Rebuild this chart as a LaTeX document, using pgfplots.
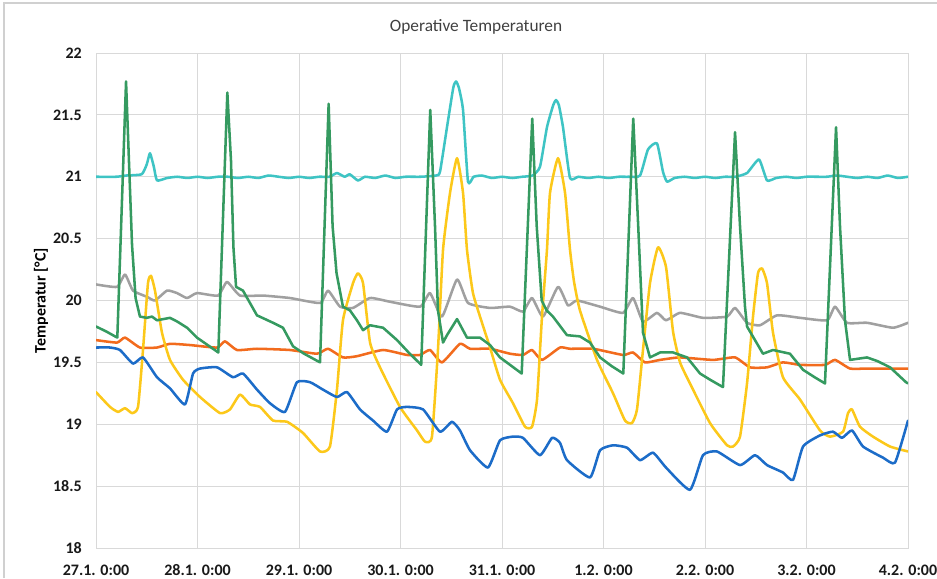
\documentclass[border=0pt]{standalone}
\usepackage{fontspec}
\setmainfont{Carlito}
\usepackage{pgfplots}
\pgfplotsset{compat=1.18}

\definecolor{gridgray}{HTML}{D9D9D9}
\definecolor{frame}{HTML}{D0D0D0}
\definecolor{tcyan}{HTML}{3EC4C4}
\definecolor{tgreen}{HTML}{359A60}
\definecolor{tgray}{HTML}{A0A0A0}
\definecolor{torange}{HTML}{F26B1D}
\definecolor{tyellow}{HTML}{FCC81A}
\definecolor{tblue}{HTML}{1C6CC8}
\definecolor{titlegray}{HTML}{404040}

\begin{document}
\begin{tikzpicture}
\useasboundingbox (-72pt,-22.5pt) rectangle (630.75pt,411pt);
\draw[frame, line width=0.8pt] (-69pt,-22.5pt) -- (-69pt,408.75pt) -- (630.75pt,408.75pt);
\begin{axis}[
    at={(0,0)}, anchor=south west,
    scale only axis, width=609pt, height=371.25pt,
    xmin=0, xmax=8, ymin=18, ymax=22,
    xtick={0,1,2,3,4,5,6,7,8},
    xticklabels={27.1. 0:00,28.1. 0:00,29.1. 0:00,30.1. 0:00,31.1. 0:00,1.2. 0:00,2.2. 0:00,3.2. 0:00,4.2. 0:00},
    ytick={18,18.5,19,19.5,20,20.5,21,21.5,22},
    grid=major, grid style={draw=gridgray, line width=0.6pt},
    axis line style={draw=gridgray, line width=0.6pt},
    tick style={draw=none},
    /pgf/number format/assume math mode=true,
    ticklabel style={font=\fontsize{12}{14}\selectfont\bfseries, text=black!90},
    xticklabel style={anchor=center, yshift=-16.5pt},
    yticklabel style={anchor=east, inner sep=0pt, xshift=-10.5pt},
    ylabel={Temperatur [°C]},
    ylabel style={at={(axis description cs:-0.0677,0.5)}, anchor=center,
        font=\fontsize{12}{14}\selectfont\bfseries},
    title={Operative Temperaturen},
    title style={at={(axis description cs:0.468,1.036)}, anchor=center,
        font=\fontsize{13}{15}\selectfont, text=titlegray},
    every axis plot/.append style={line width=1.9pt, line join=round, line cap=round},
]
% cyan
\addplot[tcyan, smooth, tension=0.3] coordinates {
(0,21.00) (0.2,21.00) (0.3,21.01) (0.45,21.02) (0.5,21.10) (0.532,21.19) (0.57,21.08) (0.601,20.97)
(0.7,20.99) (0.8,21.0) (0.9,20.99) (1.0,21.0) (1.1,20.99) (1.2,21.0) (1.3,21.0) (1.4,20.99) (1.5,21.0)
(1.6,20.99) (1.7,21.01) (1.8,21.0) (1.9,20.99) (2.0,21.0) (2.1,20.99) (2.2,21.0) (2.3,21.0) (2.374,21.03)
(2.45,21.0) (2.5,21.02) (2.58,20.97) (2.65,21.0) (2.75,20.99) (2.85,21.01) (2.95,20.99) (3.05,21.0)
(3.2,21.0) (3.35,21.01) (3.389,21.04) (3.458,21.40) (3.52,21.72) (3.547,21.77) (3.575,21.72) (3.616,21.54)
(3.665,20.96) (3.72,21.0) (3.8,21.01) (3.9,20.99) (4.0,21.0) (4.1,20.99) (4.2,21.0) (4.3,21.01)
(4.374,21.08) (4.443,21.40) (4.505,21.58) (4.532,21.62) (4.56,21.58) (4.601,21.40) (4.670,20.99) (4.75,21.0)
(4.85,20.99) (4.95,21.0) (5.05,20.99) (5.15,21.0) (5.25,21.0) (5.360,21.01) (5.438,21.22) (5.527,21.27)
(5.586,21.04) (5.626,20.96) (5.7,20.99) (5.8,21.0) (5.9,20.99) (6.0,21.0) (6.1,20.99) (6.2,21.0) (6.3,21.0)
(6.414,21.03) (6.532,21.14) (6.611,20.97) (6.7,20.99) (6.8,21.0) (6.9,20.99) (7.0,21.0) (7.1,21.0)
(7.2,21.0) (7.3,21.01) (7.4,21.0) (7.5,20.99) (7.6,21.0) (7.7,20.99) (7.8,21.01) (7.9,20.99) (8.0,21.0)
};
% grey
\addplot[tgray, smooth, tension=0.3] coordinates {
(0,20.13) (0.207,20.11) (0.286,20.21) (0.365,20.08) (0.502,20.03) (0.581,20.00) (0.700,20.08)
(0.798,20.06) (0.897,20.02) (0.995,20.06) (1.202,20.04) (1.291,20.15) (1.419,20.04) (1.645,20.04)
(1.911,20.02) (2.207,19.98) (2.286,20.08) (2.404,19.95) (2.532,19.94) (2.700,20.02) (2.897,19.99)
(3.192,19.95) (3.291,20.06) (3.409,19.87) (3.557,20.17) (3.665,19.98) (3.882,19.94) (4.079,19.95)
(4.207,19.91) (4.296,20.02) (4.404,19.87) (4.552,20.11) (4.650,19.96) (4.739,20.00) (4.966,19.95)
(5.192,19.90) (5.291,20.02) (5.389,19.83) (5.527,19.90) (5.616,19.84) (5.754,19.90) (5.980,19.86)
(6.217,19.87) (6.296,19.94) (6.414,19.82) (6.542,19.80) (6.709,19.88) (6.936,19.86) (7.202,19.84)
(7.281,19.95) (7.399,19.82) (7.596,19.82) (7.852,19.78) (8.0,19.82)
};
% orange
\addplot[torange, smooth, tension=0.3] coordinates {
(0,19.68) (0.207,19.66) (0.286,19.70) (0.433,19.62) (0.601,19.62) (0.729,19.65) (0.926,19.64)
(1.192,19.62) (1.271,19.67) (1.389,19.60) (1.586,19.61) (1.911,19.60) (2.177,19.57) (2.286,19.61)
(2.433,19.54) (2.571,19.55) (2.828,19.60) (3.064,19.56) (3.192,19.56) (3.291,19.60) (3.409,19.50)
(3.586,19.65) (3.685,19.61) (3.882,19.61) (4.079,19.57) (4.207,19.56) (4.296,19.60) (4.394,19.52)
(4.571,19.62) (4.670,19.61) (4.897,19.61) (5.192,19.56) (5.291,19.58) (5.409,19.50) (5.557,19.52)
(5.754,19.54) (6.079,19.52) (6.296,19.54) (6.443,19.46) (6.611,19.46) (6.768,19.50) (6.936,19.48)
(7.182,19.48) (7.281,19.52) (7.429,19.45) (7.596,19.45) (8.0,19.45)
};
% yellow
\addplot[tyellow, smooth, tension=0.3] coordinates {
(0,19.26) (0.138,19.14) (0.217,19.10) (0.286,19.13) (0.355,19.09) (0.414,19.14) (0.463,19.60)
(0.512,20.14) (0.542,20.20) (0.581,20.08) (0.650,19.74) (0.729,19.52) (0.857,19.36) (1.025,19.22)
(1.222,19.09) (1.320,19.12) (1.419,19.24) (1.517,19.16) (1.616,19.14) (1.744,19.03) (1.882,19.02)
(2.039,18.93) (2.207,18.78) (2.305,18.82) (2.374,19.28) (2.433,19.84) (2.532,20.14) (2.581,20.22)
(2.631,20.14) (2.700,19.66) (2.798,19.46) (2.995,19.14) (3.163,18.95) (3.241,18.86) (3.310,18.90)
(3.369,19.60) (3.419,20.41) (3.488,20.87) (3.557,21.15) (3.616,20.87) (3.655,20.41) (3.714,20.06)
(3.803,19.82) (3.882,19.62) (3.980,19.36) (4.108,19.17) (4.227,18.98) (4.296,18.98) (4.345,19.20)
(4.394,19.87) (4.443,20.41) (4.473,20.87) (4.552,21.15) (4.621,20.87) (4.670,20.41) (4.710,20.15)
(4.768,19.92) (4.936,19.52) (5.094,19.25) (5.212,19.03) (5.281,19.01) (5.330,19.12) (5.389,19.60)
(5.458,20.14) (5.537,20.43) (5.616,20.27) (5.685,19.75) (5.754,19.50) (5.852,19.33) (6.049,19.01)
(6.217,18.83) (6.276,18.82) (6.345,18.90) (6.414,19.33) (6.473,19.87) (6.522,20.22) (6.562,20.26)
(6.611,20.14) (6.670,19.74) (6.768,19.38) (6.936,19.20) (7.133,18.95) (7.232,18.90) (7.360,18.94)
(7.409,19.09) (7.448,19.12) (7.527,18.98) (7.655,18.90) (7.823,18.82) (8.0,18.78)
};
% blue
\addplot[tblue, smooth, tension=0.3] coordinates {
(0,19.62) (0.138,19.62) (0.236,19.60) (0.365,19.49) (0.463,19.54) (0.601,19.38) (0.729,19.29)
(0.877,19.16) (0.956,19.41) (1.025,19.45) (1.192,19.46) (1.350,19.38) (1.448,19.41) (1.586,19.28)
(1.714,19.17) (1.862,19.10) (1.980,19.34) (2.108,19.34) (2.236,19.28) (2.374,19.22) (2.473,19.26)
(2.601,19.12) (2.729,19.03) (2.867,18.94) (2.966,19.12) (3.064,19.14) (3.222,19.12) (3.389,18.94)
(3.507,19.02) (3.586,18.95) (3.685,18.79) (3.862,18.65) (3.980,18.87) (4.108,18.90) (4.207,18.89)
(4.374,18.75) (4.493,18.89) (4.571,18.85) (4.640,18.71) (4.867,18.57) (4.966,18.79) (5.094,18.83)
(5.232,18.81) (5.360,18.71) (5.488,18.77) (5.616,18.65) (5.852,18.47) (5.980,18.75) (6.118,18.78)
(6.345,18.67) (6.493,18.75) (6.611,18.67) (6.768,18.61) (6.867,18.55) (6.966,18.82) (7.133,18.91)
(7.261,18.94) (7.350,18.89) (7.448,18.95) (7.557,18.82) (7.754,18.73) (7.872,18.69) (8.0,19.03)
};
% green
\addplot[tgreen] coordinates {
(0,19.79) (0.1,19.75) (0.21,19.70) (0.296,21.77) (0.355,20.45) (0.39,20.02) (0.433,19.87) (0.50,19.86)
(0.552,19.87) (0.601,19.84) (0.729,19.86) (0.80,19.83) (0.897,19.78) (0.995,19.70) (1.10,19.64)
(1.205,19.58) (1.294,21.68) (1.33,21.13) (1.354,20.43) (1.380,20.11) (1.448,20.08) (1.586,19.88)
(1.744,19.82) (1.842,19.78) (1.941,19.63) (2.05,19.57) (2.207,19.50) (2.292,21.59) (2.331,20.60)
(2.370,20.22) (2.433,19.95) (2.502,19.92) (2.571,19.84) (2.631,19.76) (2.700,19.80) (2.828,19.78)
(2.966,19.68) (3.08,19.58) (3.204,19.48) (3.293,21.54) (3.340,20.60) (3.369,19.92) (3.419,19.66)
(3.458,19.72) (3.557,19.85) (3.655,19.70) (3.783,19.70) (3.882,19.64) (3.980,19.54) (4.079,19.48)
(4.194,19.41) (4.298,21.47) (4.342,20.60) (4.391,20.00) (4.44,19.92) (4.502,19.87) (4.640,19.72)
(4.768,19.71) (4.867,19.66) (4.966,19.54) (5.08,19.47) (5.195,19.41) (5.293,21.47) (5.342,20.60)
(5.389,19.74) (5.458,19.54) (5.557,19.58) (5.685,19.58) (5.823,19.54) (5.951,19.41) (6.05,19.36)
(6.177,19.30) (6.296,21.36) (6.345,20.60) (6.394,19.95) (6.414,19.79) (6.571,19.57) (6.670,19.60)
(6.837,19.57) (6.966,19.44) (7.08,19.38) (7.182,19.33) (7.291,21.40) (7.330,20.60) (7.379,19.84)
(7.429,19.52) (7.596,19.54) (7.70,19.51) (7.823,19.46) (7.980,19.34) (8.0,19.33)
};
\end{axis}
\end{tikzpicture}
\end{document}
